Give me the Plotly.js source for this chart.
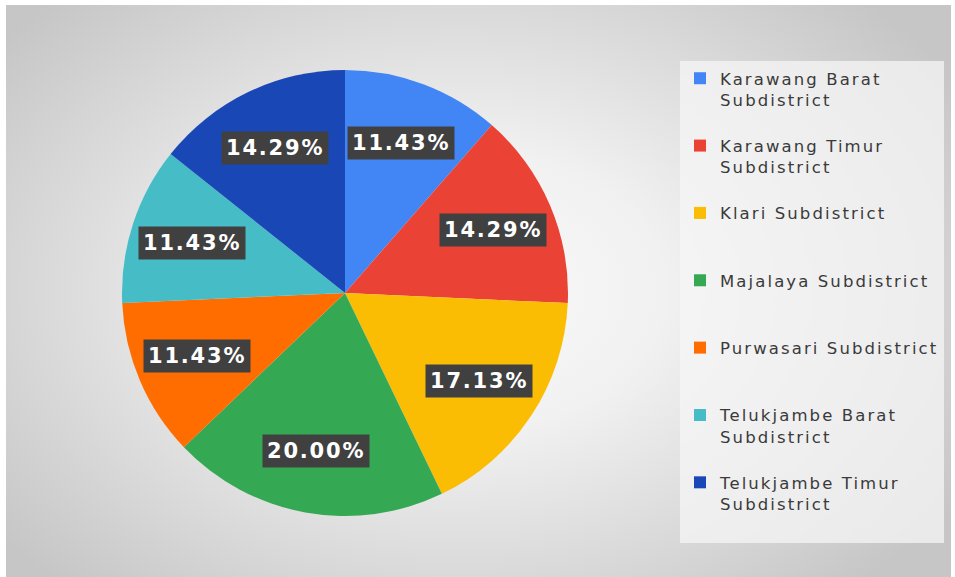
<!DOCTYPE html>
<html>
<head>
<meta charset="utf-8">
<script src="https://cdn.plot.ly/plotly-3.0.1.min.js"></script>
<style>
  html, body { margin:0; padding:0; background:#ffffff; }
  #wrap { position:relative; width:955px; height:577px; overflow:hidden; }
  #bg { position:absolute; left:6px; top:5px; width:945px; height:572px;
        background: radial-gradient(ellipse 62% 70% at 48% 50%, #fafafa 0%, #f1f1f1 35%, #dadada 70%, #c6c6c6 100%); }
  #chart { position:absolute; left:0; top:0; width:955px; height:577px; }
  .legendtext { letter-spacing: 2.1px; }
  .annotation-text { letter-spacing: 1.8px; }
</style>
</head>
<body>
<div id="wrap"><div id="bg"></div><div id="chart"></div></div>
<script>
// ---- data ----
const categories = [
  "Karawang Barat<br>Subdistrict",
  "Karawang Timur<br>Subdistrict",
  "Klari Subdistrict",
  "Majalaya Subdistrict",
  "Purwasari Subdistrict",
  "Telukjambe Barat<br>Subdistrict",
  "Telukjambe Timur<br>Subdistrict"
];
const shares = [11.43, 14.29, 17.13, 20.00, 11.43, 11.43, 14.29];
const colors = ["#4285f4", "#ea4335", "#fbbc04", "#34a853", "#ff6d01", "#46bdc6", "#1a47b6"];

// ---- layout constants (pixels) ----
const W = 955, H = 577;
const cx = 345, cy = 293, R = 223;
const labelFrac = 0.72;

// pad legend entries to three lines so spacing matches
const legendLabels = categories.map(c => {
  const n = c.split("<br>").length;
  let s = c;
  for (let i = n; i < 3; i++) s += "<br>\u00a0";
  return s;
});

const total = shares.reduce((a, b) => a + b, 0);
let cum = 0;
const annotations = shares.map(v => {
  const mid = (cum + v / 2) / total * 2 * Math.PI;
  cum += v;
  const px = cx + labelFrac * R * Math.sin(mid);
  const py = cy - labelFrac * R * Math.cos(mid);
  return {
    xref: "paper", yref: "paper",
    x: px / W, y: 1 - py / H,
    xanchor: "center", yanchor: "middle",
    text: v.toFixed(2) + "%",
    showarrow: false,
    bgcolor: "#404040",
    borderpad: 4,
    font: { family: "DejaVu Sans", size: 21, color: "#ffffff", weight: "bold" }
  };
});

const trace = {
  type: "pie",
  labels: legendLabels,
  values: shares,
  sort: false,
  direction: "clockwise",
  rotation: 0,
  marker: { colors: colors, line: { width: 0 } },
  textinfo: "none",
  hoverinfo: "label+percent",
  domain: { x: [(cx - R) / W, (cx + R) / W], y: [1 - (cy + R) / H, 1 - (cy - R) / H] }
};

const layout = {
  width: W, height: H,
  margin: { l: 0, r: 0, t: 0, b: 0, pad: 0 },
  paper_bgcolor: "rgba(0,0,0,0)",
  plot_bgcolor: "rgba(0,0,0,0)",
  showlegend: true,
  legend: {
    x: 680 / W, xanchor: "left",
    y: 1 - 61 / H, yanchor: "top",
    bgcolor: "rgba(245,245,245,0.75)",
    font: { family: "DejaVu Sans", size: 16.5, color: "#3a3a3a" },
    valign: "top",
    itemclick: false,
    itemdoubleclick: false
  },
  annotations: annotations
};

Plotly.newPlot("chart", [trace], layout, { displayModeBar: false, staticPlot: true });
</script>
</body>
</html>
